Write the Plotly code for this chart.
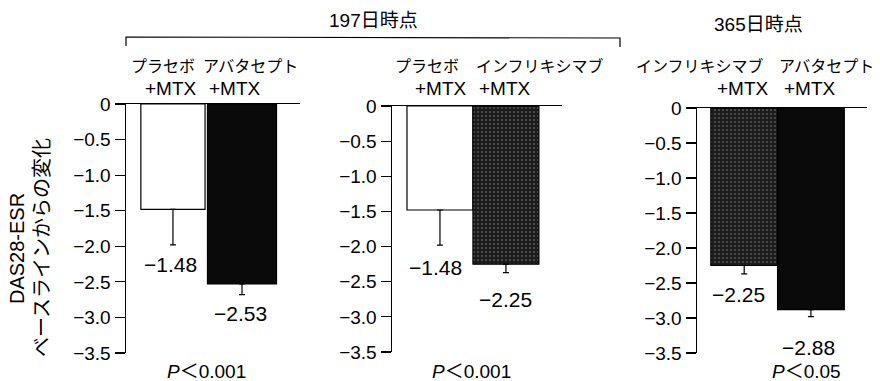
import plotly.graph_objects as go

W, H = 880, 381

# ---------------- data ----------------
period_titles = ["197日時点", "365日時点"]
group_names = [
    ["プラセボ", "アバタセプト"],
    ["プラセボ", "インフリキシマブ"],
    ["インフリキシマブ", "アバタセプト"],
]
combo_label = "+MTX"
values = [[-1.48, -2.53], [-1.48, -2.25], [-2.25, -2.88]]
errors = [[0.50, 0.15], [0.50, 0.12], [0.12, 0.10]]
fill_kinds = [["white", "black"], ["white", "stipple"], ["stipple", "black"]]
p_values = ["<i>P</i>＜0.001", "<i>P</i>＜0.001", "<i>P</i>＜0.05"]
tick_vals = [0, -0.5, -1.0, -1.5, -2.0, -2.5, -3.0, -3.5]
tick_text = ["0", "−0.5", "−1.0", "−1.5", "−2.0", "−2.5", "−3.0", "−3.5"]
y_title_lines = ["DAS28-ESR", "ベースラインからの変化"]

# ---------------- layout geometry (pixels) ----------------
panels = [
    dict(ax=126, rx=300, zy=104, by=353, xr=[-0.68, 1.84], widths=[0.93, 1.0]),
    dict(ax=392, rx=562, zy=106, by=352, xr=[-0.727, 1.85], widths=[1.0, 1.0]),
    dict(ax=697, rx=867, zy=108, by=353, xr=[-0.707, 1.84], widths=[1.0, 1.0]),
]
label_drop = [[20, 19], [22, 27], [21, 31]]
label_xshift = [[-2, -2], [-4, 0], [-6, -2]]
name_xshift = [[-10, 8], [-13, 34], [-44, 16]]
mtx_xshift = [[-2, -7], [1, -1], [-1, -1]]
p_x = [206, 471, 806]

NUM_FONT = "Liberation Sans, Arial, Noto Sans CJK JP"
JP_FONT = "Noto Sans CJK JP, Liberation Sans"


def px(x):
    return x / W


def py(y):
    return 1 - y / H


def note(**kw):
    base = dict(showarrow=False, xanchor="center", yanchor="middle")
    base.update(kw)
    return base


fig = go.Figure()
annotations = []
shapes = []

for i, p in enumerate(panels):
    sfx = "" if i == 0 else str(i + 1)
    xa, ya = "x" + sfx, "y" + sfx
    cats = [g + combo_label for g in group_names[i]]
    colors, pat = [], []
    for k in fill_kinds[i]:
        if k == "white":
            colors.append("white"); pat.append("")
        elif k == "black":
            colors.append("#0a0a0a"); pat.append("")
        else:
            colors.append("#1c1c1c"); pat.append(".")
    fig.add_trace(go.Bar(
        x=cats, y=values[i], width=p["widths"],
        xaxis=xa, yaxis=ya,
        marker=dict(
            color=colors,
            line=dict(color="black", width=1.2),
            pattern=dict(shape=pat, fgcolor="#ffffff", size=4,
                         solidity=0.1, fillmode="overlay", fgopacity=0.5),
        ),
        error_y=dict(type="data", symmetric=False, array=[0, 0],
                     arrayminus=errors[i], color="black", thickness=1.2, width=3),
        showlegend=False, hoverinfo="skip",
    ))
    xd = [px(p["ax"]), px(p["rx"])]
    yd = [py(p["by"]), py(p["zy"])]
    fig.layout["xaxis" + sfx] = dict(
        domain=xd, range=p["xr"], anchor=ya, side="top",
        showline=True, linecolor="black", linewidth=1.5,
        showticklabels=False, ticks="", showgrid=False, zeroline=False,
        type="category", fixedrange=True, automargin=False,
    )
    fig.layout["yaxis" + sfx] = dict(
        domain=yd, range=[-3.5, 0], anchor=xa,
        showline=True, linecolor="black", linewidth=1.5,
        ticks="outside", ticklen=10, tickwidth=1.2, tickcolor="black",
        tickvals=tick_vals, ticktext=tick_text,
        tickfont=dict(family=NUM_FONT, size=19, color="black"),
        showgrid=False, zeroline=False, fixedrange=True, automargin=False,
    )
    for j, c in enumerate(cats):
        v, e = values[i][j], errors[i][j]
        annotations.append(note(
            xref=xa, yref=ya, x=c, y=v - e,
            text=f"−{abs(v):.2f}",
            yshift=-label_drop[i][j], xshift=label_xshift[i][j],
            font=dict(family=NUM_FONT, size=21, color="black"),
        ))
        annotations.append(note(
            xref=xa, yref="paper", x=c, y=py(65),
            text=group_names[i][j], xshift=name_xshift[i][j],
            font=dict(family=JP_FONT, size=16, color="black"),
        ))
        annotations.append(note(
            xref=xa, yref="paper", x=c, y=py(89),
            text=combo_label, xshift=mtx_xshift[i][j],
            font=dict(family=NUM_FONT, size=19, color="black"),
        ))
    annotations.append(note(
        xref="paper", yref="paper", x=px(p_x[i]), y=py(371), text=p_values[i],
        font=dict(family=NUM_FONT, size=19, color="black"),
    ))

annotations.append(note(xref="paper", yref="paper", x=px(373), y=py(20),
                        text=period_titles[0],
                        font=dict(family=NUM_FONT, size=19, color="black")))
annotations.append(note(xref="paper", yref="paper", x=px(758), y=py(25),
                        text=period_titles[1],
                        font=dict(family=NUM_FONT, size=19, color="black")))

annotations.append(note(xref="paper", yref="paper", x=px(17), y=py(249),
                        text=y_title_lines[0], textangle=-90,
                        font=dict(family=NUM_FONT, size=20, color="black")))
annotations.append(note(xref="paper", yref="paper", x=px(40), y=py(248),
                        text=y_title_lines[1], textangle=-90,
                        font=dict(family=JP_FONT, size=20, color="black")))

shapes.append(dict(
    type="path", xref="paper", yref="paper",
    path=f"M {px(126)} {py(46)} L {px(126)} {py(37)} L {px(620)} {py(38)} L {px(620)} {py(47)}",
    line=dict(color="black", width=1.2),
))

fig.update_layout(
    width=W, height=H,
    margin=dict(l=0, r=0, t=0, b=0, pad=0, autoexpand=False),
    paper_bgcolor="white", plot_bgcolor="white",
    bargap=0,
    annotations=annotations, shapes=shapes,
)

fig.write_html("out.html",
               config={"displayModeBar": False, "staticPlot": True},
               post_script="document.body.style.margin='0px';document.body.style.overflow='hidden';")
